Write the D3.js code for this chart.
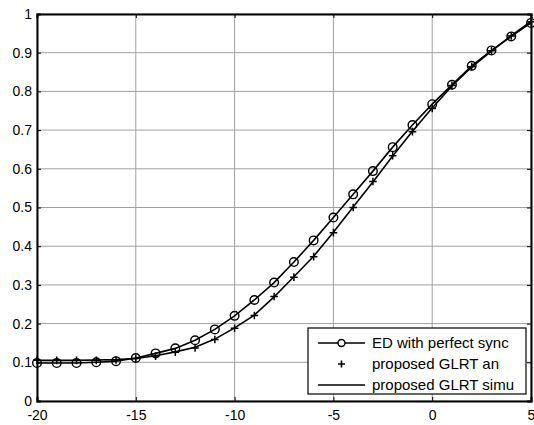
<!DOCTYPE html>
<html><head><meta charset="utf-8">
<script src="https://cdn.jsdelivr.net/npm/d3@7"></script>
<style>body{margin:0;background:#fff}svg{display:block}text{font-family:Arial,"Liberation Sans",sans-serif}</style>
</head><body><svg id="c" width="534" height="425"></svg>
<script>
const snr = [-20,-19,-18,-17,-16,-15,-14,-13,-12,-11,-10,-9,-8,-7,-6,-5,-4,-3,-2,-1,0,1,2,3,4,5];
const edPerfect = [0.098,0.098,0.098,0.100,0.103,0.111,0.123,0.136,0.157,0.185,0.220,0.261,0.306,0.359,0.415,0.474,0.534,0.594,0.656,0.713,0.767,0.817,0.866,0.906,0.942,0.977];
const glrtAnalytic = [0.105,0.105,0.105,0.105,0.106,0.110,0.116,0.126,0.137,0.159,0.188,0.221,0.270,0.320,0.373,0.435,0.500,0.567,0.634,0.696,0.756,0.815,0.864,0.905,0.943,0.980];
const glrtSim = [0.105,0.105,0.105,0.106,0.107,0.110,0.117,0.127,0.139,0.160,0.189,0.222,0.269,0.321,0.374,0.436,0.501,0.566,0.633,0.697,0.757,0.814,0.863,0.904,0.944,0.981];
const xTicks = [-20,-15,-10,-5,0,5];
const xTickLabels = ["-20","-15","-10","-5","0","5"];
const yTicks = [0,0.1,0.2,0.3,0.4,0.5,0.6,0.7,0.8,0.9,1];
const yTickLabels = ["0","0.1","0.2","0.3","0.4","0.5","0.6","0.7","0.8","0.9","1"];
const legendLabels = ["ED with perfect sync","proposed GLRT an","proposed GLRT simu"];

const svg = d3.select("#c");
const L=37,R=531,T=14,B=401;
const x = d3.scaleLinear().domain([-20,5]).range([L,R]);
const y = d3.scaleLinear().domain([0,1]).range([B,T]);

// grid
const g = svg.append("g");
g.selectAll(".gx").data(xTicks).join("line").attr("x1",d=>x(d)).attr("x2",d=>x(d)).attr("y1",T).attr("y2",B).attr("stroke","#a0a0a0").attr("stroke-width",1);
g.selectAll(".gy").data(yTicks).join("line").attr("x1",L).attr("x2",R).attr("y1",d=>y(d)).attr("y2",d=>y(d)).attr("stroke","#a0a0a0").attr("stroke-width",1);

// axes
const xa = svg.append("g").attr("transform",`translate(0,${B})`).call(d3.axisBottom(x).tickValues(xTicks).tickSize(-4).tickPadding(9).tickFormat((d,i)=>xTickLabels[i]));
const xaTop = svg.append("g").attr("transform",`translate(0,${T})`).call(d3.axisTop(x).tickValues(xTicks).tickSize(-4).tickFormat(""));
const ya = svg.append("g").attr("transform",`translate(${L},0)`).call(d3.axisLeft(y).tickValues(yTicks).tickSize(-4).tickPadding(5).tickFormat((d,i)=>yTickLabels[i]));
const yaR = svg.append("g").attr("transform",`translate(${R},0)`).call(d3.axisRight(y).tickValues(yTicks).tickSize(-4).tickFormat(""));
[xa,xaTop,ya,yaR].forEach(a=>{a.select(".domain").attr("stroke","#000").attr("stroke-width",2);a.selectAll(".tick line").attr("stroke","#000");a.selectAll("text").attr("fill","#000").attr("font-size",14);});

const line = d3.line().x((d,i)=>x(snr[i])).y(d=>y(d));
const plot = svg.append("g");
plot.append("path").datum(glrtSim).attr("d",line).attr("fill","none").attr("stroke","#000").attr("stroke-width",1.6);
plot.append("path").datum(edPerfect).attr("d",line).attr("fill","none").attr("stroke","#000").attr("stroke-width",1.6);
plot.selectAll(".c").data(edPerfect).join("circle").attr("cx",(d,i)=>x(snr[i])).attr("cy",d=>y(d)).attr("r",4.3).attr("fill","none").attr("stroke","#000").attr("stroke-width",1.4);
plot.selectAll(".p").data(glrtAnalytic).join("path").attr("transform",(d,i)=>`translate(${x(snr[i])},${y(d)})`).attr("d","M-3.8,0H3.8M0,-3.8V3.8").attr("stroke","#000").attr("stroke-width",1.5).attr("fill","none");

// legend
const lg = svg.append("g");
lg.append("rect").attr("x",308).attr("y",328).attr("width",218).attr("height",66).attr("fill","#fff").attr("stroke","#000").attr("stroke-width",1.2);
const rows=[343,364,385];
legendLabels.forEach((t,i)=>{
  const yy=rows[i];
  if(i!==1) lg.append("line").attr("x1",318).attr("x2",365).attr("y1",yy).attr("y2",yy).attr("stroke","#000").attr("stroke-width",1.6);
  if(i===0) lg.append("circle").attr("cx",341.5).attr("cy",yy).attr("r",3.5).attr("fill","#fff").attr("stroke","#000").attr("stroke-width",1.4);
  if(i===1) lg.append("path").attr("transform",`translate(341.5,${yy})`).attr("d","M-3.5,0H3.5M0,-3.5V3.5").attr("stroke","#000").attr("stroke-width",1.6);
  lg.append("text").attr("x",372).attr("y",yy).attr("dy","0.35em").attr("font-size",15).attr("fill","#000").text(t);
});
</script></body></html>
